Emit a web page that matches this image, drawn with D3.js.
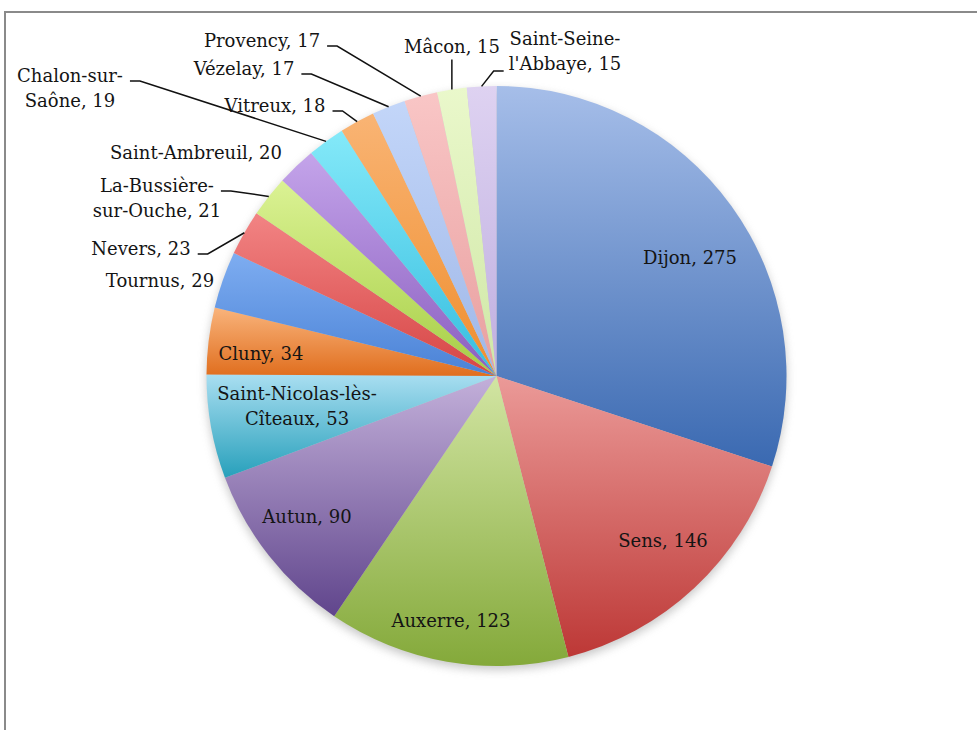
<html>
<head>
<meta charset="utf-8">
<script src="https://d3js.org/d3.v7.min.js"></script>
<style>
body { margin: 0; background: #fff; }
svg text { font-family: "DejaVu Serif", serif; font-size: 18px; fill: #141414; }
</style>
</head>
<body>
<svg id="chart" width="977" height="730"></svg>
<script>

var towns = ["Dijon", "Sens", "Auxerre", "Autun", "Saint-Nicolas-lès-Cîteaux", "Cluny", "Tournus", "Nevers",
	"La-Bussière-sur-Ouche", "Saint-Ambreuil", "Chalon-sur-Saône", "Vitreux", "Vézelay", "Provency", "Mâcon", "Saint-Seine-l'Abbaye"]
var counts = [275, 146, 123, 90, 53, 34, 29, 23, 21, 20, 19, 18, 17, 17, 15, 15]

// slice gradients, light top -> dark bottom
var topColors = ["#a6bee9", "#eb9a98", "#d2e5a3", "#c3b0da", "#a9def1", "#f9b47c", "#7eadf1", "#f28484",
	"#dbf294", "#c4a4ea", "#84e9f9", "#f9b474", "#c3d6f9", "#f9c6c6", "#eaf8cb", "#ded2f1"]
var bottomColors = ["#3a69b1", "#bd3836", "#84a93a", "#60458c", "#27a0bb", "#e06e1e", "#4a82d6", "#d64545",
	"#a6ce45", "#8a5ebf", "#35bddf", "#ef8e2e", "#9fb7e7", "#e89f9f", "#cfe7a6", "#bfafe0"]

// where each label sits (text centre), after which hyphen the name wraps,
// and what kind of leader line ties it to its slice
var layout = [
	{x: 690, y: 257},
	{x: 663, y: 540},
	{x: 451, y: 620},
	{x: 307, y: 516},
	{x: 297, y: 393, wrap: 3},
	{x: 261, y: 353},
	{x: 160, y: 280},
	{x: 141, y: 248, leader: "h"},
	{x: 157, y: 185, wrap: 2, leader: "h"},
	{x: 196, y: 152},
	{x: 70, y: 75, wrap: 2, leader: "h"},
	{x: 275, y: 105, leader: "h"},
	{x: 244, y: 68, leader: "h"},
	{x: 262, y: 40, leader: "h"},
	{x: 452, y: 46, leader: "v"},
	{x: 565, y: 38, wrap: 2, leader: "h", line: 1}
]

var data = towns.map((t, i) => ({name: t, value: counts[i], i: i}))

var svg = d3.select("#chart"),
	cx = 496.5, cy = 376, radius = 290, lineH = 25;

// frame (only top and left edges are visible in the shot)
svg.append("path")
	.attr("d", "M5,730 V12 H977")
	.attr("fill", "none")
	.attr("stroke", "#8a8a8a")
	.attr("stroke-width", 2)

var defs = svg.append("defs")

defs.append("filter")
	.attr("id", "shadow")
	.attr("x", "-20%").attr("y", "-20%").attr("width", "140%").attr("height", "140%")
	.append("feGaussianBlur")
	.attr("stdDeviation", 5)

var grads = defs.selectAll("linearGradient")
	.data(data)
	.enter().append("linearGradient")
	.attr("id", d => "g" + d.i)
	.attr("x1", 0).attr("y1", 0).attr("x2", 0).attr("y2", 1)

grads.append("stop").attr("offset", "0%").attr("stop-color", d => topColors[d.i])
grads.append("stop").attr("offset", "100%").attr("stop-color", d => bottomColors[d.i])

var pie = d3.pie().sort(null).value(d => d.value)
var arc = d3.arc().innerRadius(0).outerRadius(radius)
var arcs = pie(data)

var g = svg.append("g").attr("transform", `translate(${cx},${cy})`)

g.append("circle")
	.attr("cy", 4)
	.attr("r", radius)
	.attr("fill", "#9a9a9a")
	.attr("opacity", 0.55)
	.attr("filter", "url(#shadow)")

g.selectAll("path.slice")
	.data(arcs)
	.enter().append("path")
	.attr("class", "slice")
	.attr("d", arc)
	.attr("fill", d => `url(#g${d.data.i})`)

function edgePoint(d) {
	var a = (d.startAngle + d.endAngle) / 2
	return [cx + radius * Math.sin(a), cy - radius * Math.cos(a)]
}

function splitName(d, wrap) {
	var tail = ", " + d.value
	if (!wrap) return [d.name + tail]
	var idx = -1
	for (var k = 0; k < wrap; k++) idx = d.name.indexOf("-", idx + 1)
	return [d.name.slice(0, idx + 1), d.name.slice(idx + 1) + tail]
}

var labels = svg.append("g")
var leaders = svg.append("g")
	.attr("fill", "none")
	.attr("stroke", "#111")
	.attr("stroke-width", 1.5)

arcs.forEach(function(d, i) {
	var p = layout[i]
	var lines = splitName(d.data, p.wrap)
	var texts = lines.map((s, k) => labels.append("text")
		.attr("x", p.x)
		.attr("y", p.y + k * lineH)
		.attr("text-anchor", "middle")
		.attr("dominant-baseline", "central")
		.text(s))

	if (!p.leader) return
	var end = edgePoint(d)
	var li = p.line || 0
	var box = texts[li].node().getBBox()
	var ly = p.y + li * lineH

	if (p.leader == "v") {
		leaders.append("path")
			.attr("d", `M${end[0]},${box.y + box.height + 3} V${end[1]}`)
		return
	}
	var sx, kx, sy = ly + 6
	if (end[0] > box.x + box.width) {
		sx = box.x + box.width + 7
		kx = sx + 10
	} else {
		sx = box.x - 5
		kx = sx - 10
		sy = ly + 8
	}
	leaders.append("path")
		.attr("d", `M${sx},${sy} H${kx} L${end[0]},${end[1]}`)
})

</script>
</body>
</html>
